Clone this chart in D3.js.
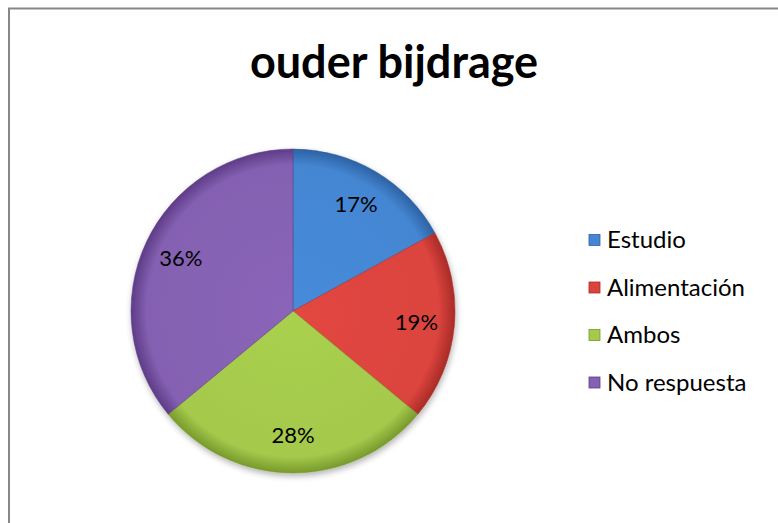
<!DOCTYPE html>
<html>
<head>
<meta charset="utf-8">
<script src="https://cdn.jsdelivr.net/npm/d3@7"></script>
<style>
  body { margin: 0; background: #fff; }
  text { font-family: Lato, "Open Sans", sans-serif; }
</style>
</head>
<body>
<div id="chart-area"></div>
<script>
// data
const categories = ["Estudio", "Alimentación", "Ambos", "No respuesta"]
const shares = [17, 19, 28, 36]
const colors = ["#4486d2", "#db443e", "#a4c94c", "#8561b2"]
const darkColors = ["#2d62a3", "#a92b27", "#789a2c", "#5e3c88"]

const WIDTH = 778
const HEIGHT = 523
const CENTER = { X: 293, Y: 311 }
const RADIUS = 162

const svg = d3.select("#chart-area").append("svg")
  .attr("width", WIDTH)
  .attr("height", HEIGHT)

// outer frame of the chart
svg.append("rect")
  .attr("x", 9)
  .attr("y", 8.5)
  .attr("width", WIDTH + 10)
  .attr("height", HEIGHT + 10)
  .attr("fill", "#fff")
  .attr("stroke", "#878787")
  .attr("stroke-width", 2)

// title
svg.append("text")
  .attr("x", 394)
  .attr("y", 78)
  .attr("text-anchor", "middle")
  .attr("font-size", "45px")
  .attr("font-weight", "bold")
  .text("ouder bijdrage")

// gradients: slight darkening towards the rim
const defs = svg.append("defs")
colors.forEach((c, i) => {
  const grad = defs.append("radialGradient")
    .attr("id", "grad" + i)
    .attr("gradientUnits", "userSpaceOnUse")
    .attr("cx", 0).attr("cy", 0).attr("r", RADIUS)
  grad.append("stop").attr("offset", "0%").attr("stop-color", d3.color(c).brighter(0.1))
  grad.append("stop").attr("offset", "90%").attr("stop-color", c)
  grad.append("stop").attr("offset", "100%").attr("stop-color", darkColors[i])
})

const filter = defs.append("filter").attr("id", "shadow")
  .attr("x", "-20%").attr("y", "-20%").attr("width", "140%").attr("height", "140%")
filter.append("feGaussianBlur").attr("in", "SourceAlpha").attr("stdDeviation", 3)
filter.append("feOffset").attr("dx", 1).attr("dy", 3).attr("result", "off")
filter.append("feComponentTransfer").append("feFuncA").attr("type", "linear").attr("slope", 0.3)
const merge = filter.append("feMerge")
merge.append("feMergeNode")
merge.append("feMergeNode").attr("in", "SourceGraphic")

const pie = d3.pie().sort(null).value(d => d)
const arcs = pie(shares)

const arc = d3.arc().innerRadius(0).outerRadius(RADIUS)
const labelArc = d3.arc().innerRadius(124).outerRadius(124)

const g = svg.append("g")
  .attr("transform", `translate(${CENTER.X}, ${CENTER.Y})`)

g.append("g")
  .attr("filter", "url(#shadow)")
  .selectAll("path")
  .data(arcs)
  .enter().append("path")
    .attr("d", arc)
    .attr("fill", (d, i) => `url(#grad${i})`)
    .attr("stroke", (d, i) => darkColors[i])
    .attr("stroke-opacity", 0.5)
    .attr("stroke-width", 1)

// percentage labels
g.append("g")
  .selectAll("text")
  .data(arcs)
  .enter().append("text")
    .attr("x", d => labelArc.centroid(d)[0])
    .attr("y", d => labelArc.centroid(d)[1])
    .attr("dy", "0.35em")
    .attr("text-anchor", "middle")
    .attr("font-size", "22px")
    .attr("fill", "#000")
    .text(d => d.data + "%")

// legend
const legend = svg.append("g")
  .attr("transform", "translate(589, 240)")

const rowStep = 47.5
categories.forEach((name, i) => {
  const row = legend.append("g").attr("transform", `translate(0, ${i * rowStep})`)
  row.append("rect")
    .attr("x", 0)
    .attr("y", -5.5)
    .attr("width", 11)
    .attr("height", 11)
    .attr("fill", colors[i])
    .attr("stroke", darkColors[i])
    .attr("stroke-width", 0.8)
  row.append("text")
    .attr("x", 18)
    .attr("y", 0)
    .attr("dy", "0.35em")
    .attr("font-size", "24px")
    .text(name)
})
</script>
</body>
</html>
